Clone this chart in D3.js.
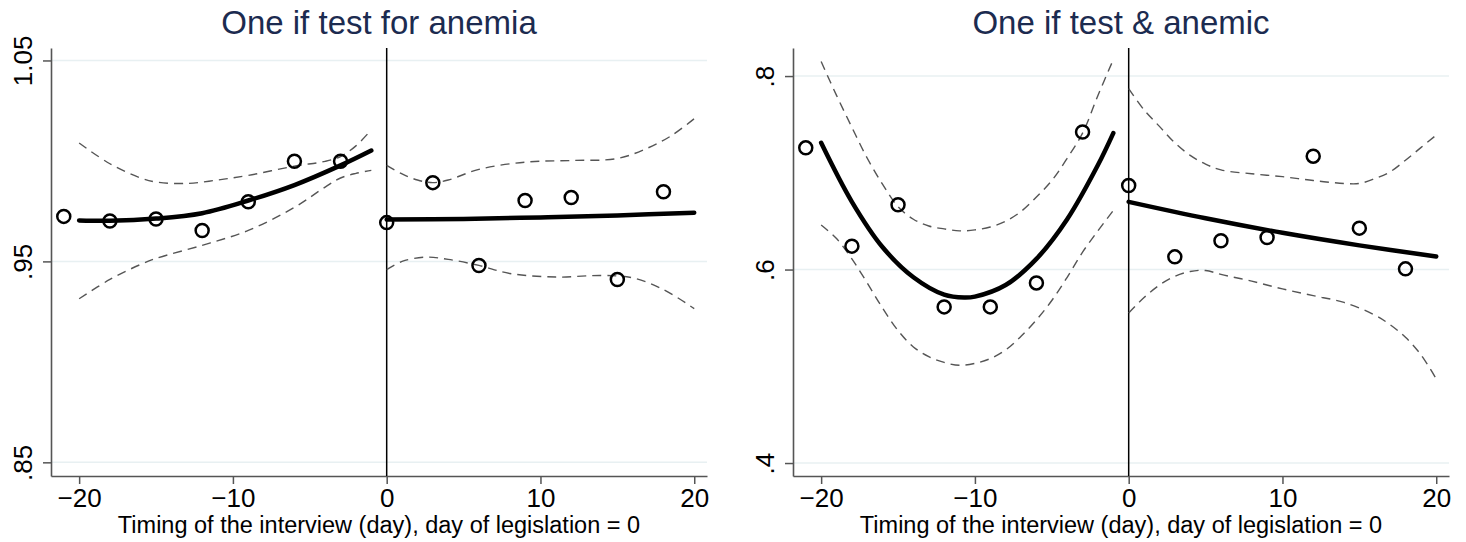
<!DOCTYPE html>
<html>
<head>
<meta charset="utf-8">
<script src="https://cdn.jsdelivr.net/npm/d3@7"></script>
<style>
  body { margin: 0; background: #fff; }
  svg { display: block; font-family: "Liberation Sans", Arial, sans-serif; }
</style>
</head>
<body>
<script>
// day bins used by the scatter points
const binDays = [-21, -18, -15, -12, -9, -6, -3, 0, 3, 6, 9, 12, 15, 18];
const xTicks = [-20, -10, 0, 10, 20];

// panel 1: one if test for anemia
const testMeans = [0.9724, 0.9701, 0.9711, 0.9654, 0.9797, 0.9998, 0.9998,
                   0.9693, 0.9892, 0.948, 0.9803, 0.9818, 0.941, 0.9847];
const testYTicks = [0.85, 0.95, 1.05];
const testPreFit = [[-20, 0.9704], [-18, 0.9702], [-15, 0.9713], [-12, 0.9740], [-9, 0.9803],
                    [-6, 0.9880], [-3, 0.9978], [-1, 1.0052]];
const testPreHi = [[-20, 1.0089], [-18, 0.9986], [-16, 0.9915], [-15, 0.9895], [-13, 0.9888],
                   [-11, 0.9905], [-9, 0.9928], [-6, 0.9974], [-4, 0.9998], [-3, 1.0022],
                   [-2, 1.0075], [-1, 1.0155]];
const testPreLo = [[-20, 0.9314], [-18, 0.9410], [-16, 0.9485], [-15, 0.9515], [-12, 0.958],
                   [-9, 0.9654], [-6, 0.9769], [-4, 0.9870], [-3, 0.9915], [-2, 0.9938], [-1, 0.9953]];
const testPostFit = [[0, 0.9708], [5, 0.9711], [10, 0.9719], [15, 0.9729], [20, 0.9742]];
const testPostHi = [[0, 0.9978], [1, 0.9935], [2, 0.9905], [3, 0.9892], [4, 0.9905], [6, 0.9958],
                    [9, 0.9994], [12, 1.0002], [15, 1.0012], [17, 1.0065], [18.5, 1.0125], [20, 1.021]];
const testPostLo = [[0, 0.9459], [1, 0.9500], [2.5, 0.9521], [4, 0.9510], [6, 0.948], [8, 0.9440],
                    [11, 0.9422], [14, 0.9430], [16, 0.9418], [18, 0.9360], [20, 0.9265]];

// panel 2: one if test & anemic
const anemicMeans = [0.7258, 0.6242, 0.6669, 0.5614, 0.5614, 0.5862, 0.7421,
                     0.6869, 0.6131, 0.6297, 0.6332, 0.7172, 0.6428, 0.6007];
const anemicYTicks = [0.4, 0.6, 0.8];
const anemicPreFit = [[-20, 0.731], [-18, 0.670], [-16, 0.623], [-14, 0.592], [-12, 0.574],
                      [-10.7, 0.571], [-10, 0.572], [-8, 0.584], [-6, 0.611], [-4, 0.652],
                      [-2, 0.708], [-1, 0.741]];
const anemicPreHi = [[-20, 0.815], [-19, 0.780], [-18, 0.747], [-17, 0.715], [-16, 0.688],
                     [-15, 0.665], [-14, 0.652], [-13, 0.645], [-12, 0.642], [-11, 0.640],
                     [-10, 0.641], [-9, 0.644], [-8, 0.650], [-7, 0.660], [-6, 0.675],
                     [-5, 0.692], [-4, 0.715], [-3, 0.741], [-2, 0.780], [-1, 0.817]];
const anemicPreLo = [[-20, 0.646], [-19, 0.632], [-18, 0.611], [-17, 0.586], [-16, 0.560],
                     [-15, 0.537], [-14, 0.520], [-13, 0.510], [-12, 0.504], [-11, 0.501],
                     [-10, 0.503], [-9, 0.508], [-8, 0.517], [-7, 0.531], [-6, 0.548],
                     [-5, 0.568], [-4, 0.592], [-3, 0.618], [-2, 0.640], [-1, 0.661]];
const anemicPostFit = [[0, 0.670], [5, 0.653], [10, 0.638], [15, 0.625], [20, 0.6135]];
const anemicPostHi = [[0, 0.787], [1, 0.765], [2, 0.748], [3, 0.731], [4, 0.718], [5, 0.709],
                      [6, 0.703], [8, 0.699], [10, 0.696], [12, 0.692], [14, 0.689], [15, 0.689],
                      [16, 0.694], [17, 0.701], [18, 0.713], [19, 0.726], [20, 0.739]];
const anemicPostLo = [[0, 0.555], [1, 0.571], [2, 0.584], [3, 0.593], [4, 0.598], [5, 0.599],
                      [6, 0.595], [8, 0.588], [10, 0.580], [12, 0.573], [14, 0.566], [16, 0.553],
                      [17, 0.543], [18, 0.530], [19, 0.512], [20, 0.487]];

const W = 1466, H = 542;
const svg = d3.select('body').append('svg').attr('width', W).attr('height', H);

const xDomain = [-21.83, 20.83];
const xLabel = 'Timing of the interview (day), day of legislation = 0';

function drawPanel(p) {
  const x = d3.scaleLinear().domain(xDomain).range([p.left, p.right]);
  const y = d3.scaleLinear().domain(p.yDomain).range([476, 48]);
  const g = svg.append('g');

  // gridlines
  g.selectAll('.grid').data(p.yTicks).enter().append('line')
    .attr('x1', p.left).attr('x2', p.right)
    .attr('y1', d => y(d)).attr('y2', d => y(d))
    .attr('stroke', '#e8f0f2').attr('stroke-width', 1.5);

  // y axis
  const yAxis = g.append('g')
    .attr('transform', `translate(${p.left},0)`)
    .call(d3.axisLeft(y).tickValues(p.yTicks).tickSize(8).tickSizeOuter(0)
      .tickFormat(d => d3.format('.2~f')(d).replace(/^0/, '')));
  yAxis.select('.domain').attr('stroke', '#555').attr('stroke-width', 1.6);
  yAxis.selectAll('.tick line').attr('stroke', '#555').attr('stroke-width', 1.5);
  yAxis.selectAll('.tick text')
    .attr('font-size', 26).attr('fill', '#000')
    .attr('text-anchor', 'middle')
    .attr('transform', 'rotate(-90)')
    .attr('x', 0).attr('y', -19).attr('dy', 0);

  // x axis
  const xAxis = g.append('g')
    .attr('transform', 'translate(0,476)')
    .call(d3.axisBottom(x).tickValues(xTicks).tickSize(8).tickSizeOuter(0));
  xAxis.select('.domain').attr('stroke', '#555').attr('stroke-width', 1.6);
  xAxis.selectAll('.tick line').attr('stroke', '#555').attr('stroke-width', 1.5);
  xAxis.selectAll('.tick text').attr('font-size', 26).attr('fill', '#000')
    .attr('y', 31).attr('dy', 0);

  // cutoff line at day 0
  g.append('line')
    .attr('x1', x(0)).attr('x2', x(0)).attr('y1', 48).attr('y2', 476)
    .attr('stroke', '#000').attr('stroke-width', 1.5);

  const line = d3.line().x(d => x(d[0])).y(d => y(d[1])).curve(d3.curveCatmullRom);

  [p.preHi, p.preLo, p.postHi, p.postLo].forEach(s => {
    g.append('path').datum(s).attr('d', line)
      .attr('fill', 'none').attr('stroke', '#555')
      .attr('stroke-width', 1.4).attr('stroke-dasharray', '9,6');
  });

  [p.preFit, p.postFit].forEach(s => {
    g.append('path').datum(s).attr('d', line)
      .attr('fill', 'none').attr('stroke', '#000')
      .attr('stroke-width', 4.5).attr('stroke-linecap', 'round');
  });

  g.selectAll('.pt').data(binDays).enter().append('circle')
    .attr('cx', d => x(d))
    .attr('cy', (d, i) => y(p.means[i]))
    .attr('r', 6.5)
    .attr('fill', 'none').attr('stroke', '#000').attr('stroke-width', 2.5);

  g.append('text')
    .attr('x', (p.left + p.right) / 2).attr('y', 34)
    .attr('text-anchor', 'middle').attr('font-size', 33).attr('fill', '#1c2b50')
    .text(p.title);

  g.append('text')
    .attr('x', (p.left + p.right) / 2).attr('y', 533)
    .attr('text-anchor', 'middle').attr('font-size', 23.5).attr('fill', '#000')
    .text(xLabel);
}

drawPanel({
  title: 'One if test for anemia', left: 51, right: 707,
  yDomain: [0.8432, 1.0562], yTicks: testYTicks, means: testMeans,
  preFit: testPreFit, preHi: testPreHi, preLo: testPreLo,
  postFit: testPostFit, postHi: testPostHi, postLo: testPostLo
});

drawPanel({
  title: 'One if test & anemic', left: 793, right: 1449,
  yDomain: [0.3866, 0.8290], yTicks: anemicYTicks, means: anemicMeans,
  preFit: anemicPreFit, preHi: anemicPreHi, preLo: anemicPreLo,
  postFit: anemicPostFit, postHi: anemicPostHi, postLo: anemicPostLo
});
</script>
</body>
</html>
